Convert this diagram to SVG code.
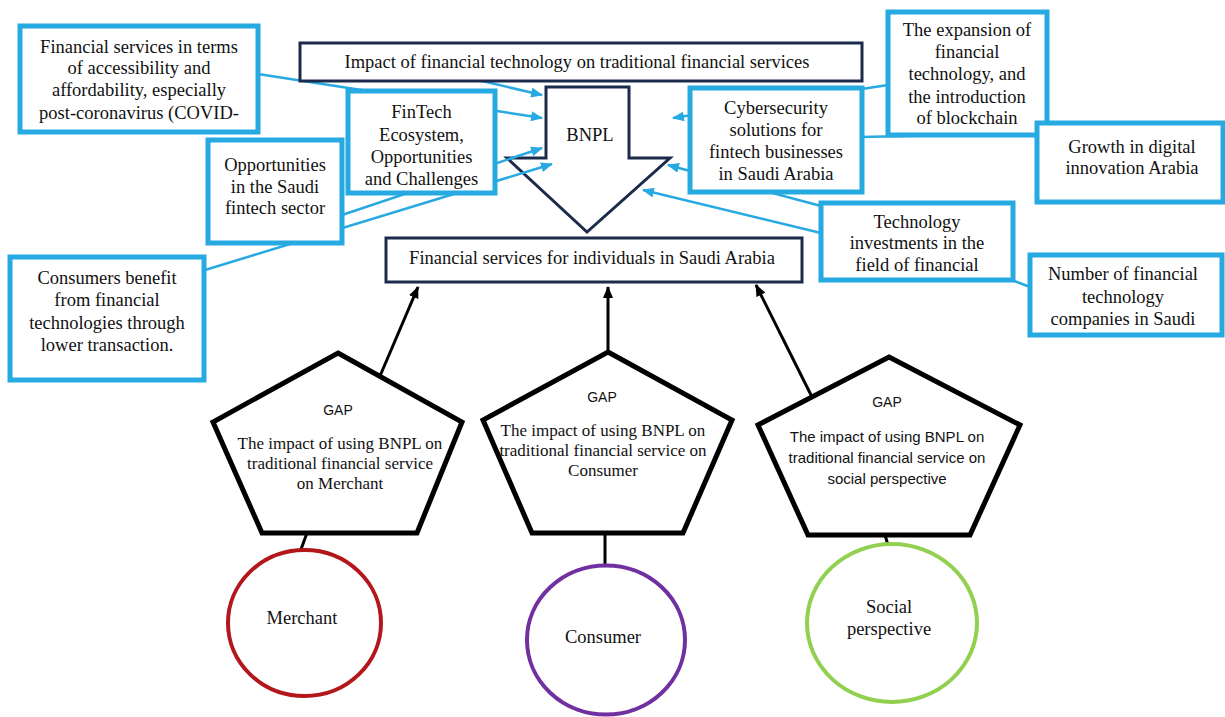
<svg xmlns="http://www.w3.org/2000/svg" width="1225" height="717" viewBox="0 0 1225 717">
<defs>
<style>
.bb{fill:#fff;stroke:#27A9E1;stroke-width:5}
.nb{fill:#fff;stroke:#1C2B4B;stroke-width:3}
.pg{fill:#fff;stroke:#000;stroke-width:5;stroke-linejoin:miter}
.t{font-family:"Liberation Serif","Times New Roman",serif;font-size:18.5px;fill:#111;text-anchor:middle}
.tp{font-family:"Liberation Serif","Times New Roman",serif;font-size:17px;fill:#111;text-anchor:middle}
.ts{font-family:"Liberation Sans",Arial,sans-serif;font-size:15px;fill:#111;text-anchor:middle}
.gap{font-family:"Liberation Sans",Arial,sans-serif;font-size:14px;fill:#111;text-anchor:middle}
.bl{fill:none;stroke:#27A9E1;stroke-width:2.5}
.bk{fill:none;stroke:#000;stroke-width:3}
</style>
<marker id="ab" markerWidth="12" markerHeight="10" refX="11" refY="5" orient="auto" markerUnits="userSpaceOnUse"><path d="M0,0 L12,5 L0,10 z" fill="#27A9E1"/></marker>
<marker id="ak" markerWidth="12" markerHeight="10" refX="11" refY="5" orient="auto" markerUnits="userSpaceOnUse"><path d="M0,0 L12,5 L0,10 z" fill="#000"/></marker>
</defs>
<rect width="1225" height="717" fill="#fff"/>

<g id="bnpl">
<path class="nb" d="M546,87 L629,87 L629,158 L670,158 L587,232 L507,158 L546,158 Z"/>
<text class="t" x="590" y="141">BNPL</text>
</g>

<g id="connectors">
<line class="bl" x1="258" y1="74" x2="542" y2="118" marker-end="url(#ab)"/>
<line class="bl" x1="400" y1="62" x2="542" y2="95" marker-end="url(#ab)"/>
<line class="bl" x1="342" y1="215" x2="542" y2="148" marker-end="url(#ab)"/>
<line class="bl" x1="205" y1="270" x2="552" y2="164" marker-end="url(#ab)"/>
<line class="bl" x1="888" y1="85" x2="673" y2="118" marker-end="url(#ab)"/>
<line class="bl" x1="1037" y1="133" x2="862" y2="137"/>
<polyline class="bl" points="1030,287 821,206 690,171 668,165" marker-end="url(#ab)"/>
<line class="bl" x1="821" y1="233" x2="643" y2="190" marker-end="url(#ab)"/>
<line class="bk" x1="380" y1="376" x2="418" y2="287" marker-end="url(#ak)"/>
<line class="bk" x1="608" y1="352" x2="608" y2="287" marker-end="url(#ak)"/>
<line class="bk" x1="812" y1="397" x2="756" y2="285" marker-end="url(#ak)"/>
<line class="bk" x1="307" y1="533" x2="300" y2="552"/>
<line class="bk" x1="605" y1="533" x2="605" y2="567"/>
<line class="bk" x1="885" y1="535" x2="888" y2="545"/>
</g>

<g id="title">
<rect class="nb" x="300" y="43" width="562" height="38"/>
<text class="t" x="577" y="68">Impact of financial technology on traditional financial services</text>
</g>

<g id="fs-individuals">
<rect class="nb" x="386" y="238" width="416" height="44"/>
<text class="t" x="592" y="264">Financial services for individuals in Saudi Arabia</text>
</g>

<g id="box-accessibility">
<rect class="bb" x="20" y="26" width="238" height="106"/>
<text class="t" x="139" y="53">Financial services in terms</text>
<text class="t" x="139" y="74">of accessibility and</text>
<text class="t" x="139" y="96">affordability, especially</text>
<text class="t" x="139" y="119">post-coronavirus (COVID-</text>
</g>

<g id="box-ecosystem">
<rect class="bb" x="348" y="91" width="147" height="102"/>
<text class="t" x="421.5" y="118">FinTech</text>
<text class="t" x="421.5" y="141">Ecosystem,</text>
<text class="t" x="421.5" y="163">Opportunities</text>
<text class="t" x="421.5" y="185">and Challenges</text>
</g>

<g id="box-opportunities">
<rect class="bb" x="208" y="140" width="134" height="103"/>
<text class="t" x="275" y="171">Opportunities</text>
<text class="t" x="275" y="193">in the Saudi</text>
<text class="t" x="275" y="214">fintech sector</text>
</g>

<g id="box-consumers">
<rect class="bb" x="10" y="257" width="194" height="123"/>
<text class="t" x="107" y="284">Consumers benefit</text>
<text class="t" x="107" y="306">from financial</text>
<text class="t" x="107" y="329">technologies through</text>
<text class="t" x="107" y="351">lower transaction.</text>
</g>

<g id="box-cybersecurity">
<rect class="bb" x="690" y="88" width="172" height="104"/>
<text class="t" x="776" y="114">Cybersecurity</text>
<text class="t" x="776" y="136">solutions for</text>
<text class="t" x="776" y="158">fintech businesses</text>
<text class="t" x="776" y="180">in Saudi Arabia</text>
</g>

<g id="box-expansion">
<rect class="bb" x="888" y="12" width="159" height="123"/>
<text class="t" x="967" y="36">The expansion of</text>
<text class="t" x="967" y="58">financial</text>
<text class="t" x="967" y="80">technology, and</text>
<text class="t" x="967" y="103">the introduction</text>
<text class="t" x="967" y="124">of blockchain</text>
</g>

<g id="box-growth">
<rect class="bb" x="1037" y="123" width="186" height="79"/>
<text class="t" x="1132" y="153">Growth in digital</text>
<text class="t" x="1132" y="174">innovation Arabia</text>
</g>

<g id="box-investments">
<rect class="bb" x="821" y="203" width="192" height="77"/>
<text class="t" x="917" y="228">Technology</text>
<text class="t" x="917" y="249">investments in the</text>
<text class="t" x="917" y="271">field of financial</text>
</g>

<g id="box-number">
<rect class="bb" x="1030" y="255" width="192" height="80"/>
<text class="t" x="1123" y="280">Number of financial</text>
<text class="t" x="1123" y="303">technology</text>
<text class="t" x="1123" y="325">companies in Saudi</text>
</g>

<g id="gap-merchant">
<polygon class="pg" points="338,353 462,422 417,533 262,533 213,422"/>
<text class="gap" x="338" y="415">GAP</text>
<text class="tp" x="340" y="449">The impact of using BNPL on</text>
<text class="tp" x="340" y="469">traditional financial service</text>
<text class="tp" x="340" y="489">on Merchant</text>
</g>

<g id="gap-consumer">
<polygon class="pg" points="608,352 732,420 683,533 532,533 483,420"/>
<text class="gap" x="602" y="402">GAP</text>
<text class="tp" x="603" y="436">The impact of using BNPL on</text>
<text class="tp" x="603" y="456">traditional financial service on</text>
<text class="tp" x="603" y="476">Consumer</text>
</g>

<g id="gap-social">
<polygon class="pg" points="889,357 1020,425 970,535 808,535 758,425"/>
<text class="gap" x="887" y="407">GAP</text>
<text class="ts" x="887" y="442">The impact of using BNPL on</text>
<text class="ts" x="887" y="463">traditional financial service on</text>
<text class="ts" x="887" y="484">social perspective</text>
</g>

<g id="merchant">
<ellipse cx="304.5" cy="623" rx="76.5" ry="73" fill="#fff" stroke="#B3171C" stroke-width="4"/>
<text class="t" x="302" y="624">Merchant</text>
</g>

<g id="consumer">
<ellipse cx="606" cy="640" rx="79" ry="74.5" fill="#fff" stroke="#7030A0" stroke-width="4"/>
<text class="t" x="603" y="643">Consumer</text>
</g>

<g id="social">
<ellipse cx="892" cy="623" rx="85" ry="79" fill="#fff" stroke="#92D050" stroke-width="4"/>
<text class="t" x="889" y="613">Social</text>
<text class="t" x="889" y="635">perspective</text>
</g>
</svg>
